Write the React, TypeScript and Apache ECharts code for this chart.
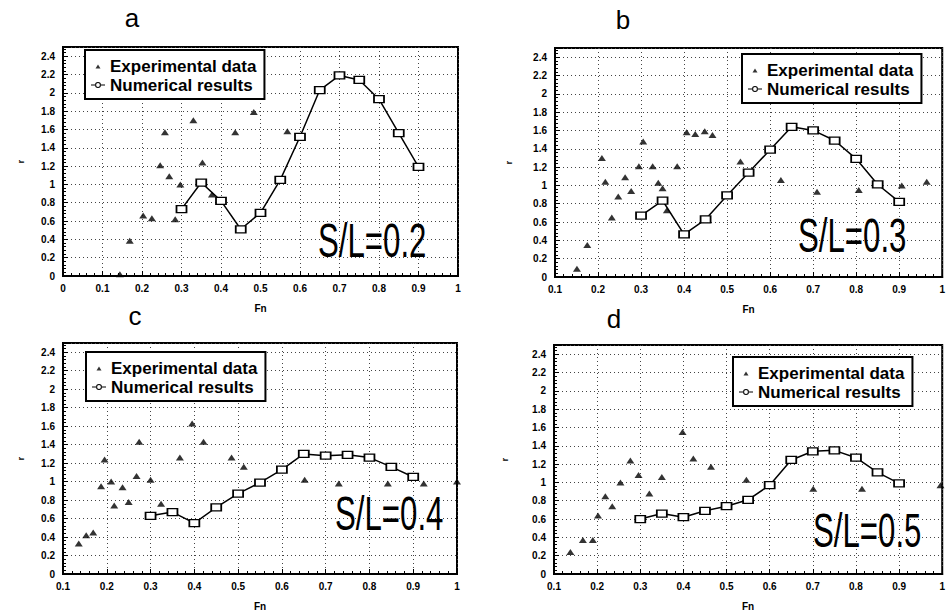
import React, { useEffect, useRef } from "react";
import * as echarts from "echarts";

const panelLetters = ["a", "b", "c", "d"];
const ratioLabels = ["S/L=0.2", "S/L=0.3", "S/L=0.4", "S/L=0.5"];
const legendNames = ["Experimental data", "Numerical results"];
const xAxisTitle = "Fn";
const yAxisTitle = "r";

// Numerical results: Fn values shared by all panels
const numFn = [0.3, 0.35, 0.4, 0.45, 0.5, 0.55, 0.6, 0.65, 0.7, 0.75, 0.8, 0.85, 0.9];
const numA = [0.73, 1.02, 0.82, 0.51, 0.69, 1.05, 1.52, 2.03, 2.19, 2.14, 1.93, 1.56, 1.19];
const numB = [0.67, 0.835, 0.465, 0.63, 0.89, 1.14, 1.39, 1.64, 1.6, 1.49, 1.29, 1.01, 0.82];
const numC = [0.63, 0.67, 0.55, 0.72, 0.87, 0.99, 1.13, 1.3, 1.28, 1.29, 1.26, 1.16, 1.05];
const numD = [0.6, 0.66, 0.62, 0.69, 0.74, 0.81, 0.97, 1.245, 1.34, 1.35, 1.27, 1.11, 0.99];

// Experimental data
const expFnA = [0.144, 0.169, 0.203, 0.225, 0.246, 0.258, 0.269, 0.284, 0.297, 0.33, 0.353, 0.377, 0.436, 0.483, 0.568];
const expA = [0.02, 0.385, 0.66, 0.63, 1.21, 1.57, 1.09, 0.62, 1.0, 1.7, 1.24, 0.89, 1.57, 1.79, 1.58];

const expFnB = [0.151, 0.175, 0.209, 0.217, 0.232, 0.247, 0.263, 0.277, 0.295, 0.305, 0.327, 0.34, 0.35, 0.36, 0.384, 0.406, 0.426, 0.448, 0.466, 0.531, 0.625, 0.709, 0.806, 0.906, 0.964];
const expB = [0.09, 0.35, 1.3, 1.04, 0.65, 0.88, 1.09, 0.94, 1.21, 1.48, 1.21, 1.03, 0.97, 0.73, 1.21, 1.58, 1.56, 1.59, 1.55, 1.26, 1.06, 0.93, 0.95, 1.0, 1.04];

const expFnC = [0.136, 0.153, 0.169, 0.187, 0.195, 0.21, 0.217, 0.236, 0.25, 0.268, 0.274, 0.3, 0.324, 0.367, 0.395, 0.421, 0.485, 0.513, 0.652, 0.73, 0.842, 0.924, 1.0];
const expC = [0.33, 0.42, 0.45, 0.95, 1.24, 1.0, 0.74, 0.94, 0.78, 1.06, 1.43, 1.02, 0.76, 1.26, 1.63, 1.43, 1.26, 1.16, 1.02, 0.98, 0.98, 0.98, 1.0];

const expFnD = [0.138, 0.167, 0.19, 0.202, 0.219, 0.235, 0.254, 0.277, 0.296, 0.321, 0.35, 0.398, 0.423, 0.464, 0.546, 0.701, 0.814, 0.996];
const expD = [0.24, 0.37, 0.37, 0.64, 0.85, 0.74, 1.0, 1.24, 1.08, 0.88, 1.06, 1.55, 1.26, 1.17, 1.03, 0.93, 0.93, 0.97];

const xMins = [0, 0.1, 0.1, 0.1];

const numSeries = [numA, numB, numC, numD];
const expFns = [expFnA, expFnB, expFnC, expFnD];
const expVals = [expA, expB, expC, expD];

// layout (pixels)
const grids = [
  { left: 63, right: 490, top: 47, bottom: 338 },
  { left: 555, right: -5, top: 48, bottom: 337 },
  { left: 63, right: 491, top: 343, bottom: 40 },
  { left: 554, right: -1, top: 345, bottom: 40 },
];
const legendPos = [
  { left: 85, top: 50 },
  { left: 742, top: 54 },
  { left: 86, top: 352 },
  { left: 733, top: 357 },
];
const letterPos = [
  [132, 18],
  [623, 20],
  [135, 316],
  [614, 319],
];
const ratioPos = [
  [318, 240],
  [798, 235],
  [335, 513],
  [813, 530],
];
const yNameGap = [38, 42, 38, 45];

const triIcon = "path://M0,0 L0.01,0 Z M14,8 L14,7.99 Z M4.5,6.5 L7,2.5 L9.5,6.5 Z";
const lineIcon =
  "path://M0,0 L0.01,0 Z M14,8 L14,7.99 Z M0,3.4 L4.2,3.4 L4.2,4.6 L0,4.6 Z M9.8,3.4 L14,3.4 L14,4.6 L9.8,4.6 Z M7,1 A3,3 0 1 0 7,7 A3,3 0 1 0 7,1 Z M7,2.1 A1.9,1.9 0 1 1 7,5.9 A1.9,1.9 0 1 1 7,2.1 Z";

export default function App() {
  const ref = useRef<HTMLDivElement>(null);

  useEffect(() => {
    if (!ref.current) return;
    const chart = echarts.init(ref.current, null, { renderer: "svg" });

    const labelStyle = {
      color: "#000",
      fontSize: 10,
      fontWeight: "bold" as const,
      fontFamily: "Liberation Sans, Arial, sans-serif",
    };
    const splitStyle = { show: true, lineStyle: { color: "#444", type: [1, 3] as any, width: 1 } };

    const xAxis = grids.map((_, i) => ({
      type: "value",
      gridIndex: i,
      min: xMins[i],
      max: 1,
      interval: 0.1,
      name: xAxisTitle,
      nameLocation: "middle",
      nameGap: 27,
      nameTextStyle: { ...labelStyle, fontSize: 10 },
      axisLine: { show: true, onZero: false, lineStyle: { color: "#000", width: 2 } },
      axisTick: { show: true, inside: true, length: 5, lineStyle: { color: "#000" } },
      minorTick: { show: true, splitNumber: 5, length: 3, lineStyle: { color: "#000" } },
      axisLabel: { ...labelStyle, margin: 7 },
      splitLine: splitStyle,
    }));

    const yAxis = grids.map((_, i) => ({
      type: "value",
      gridIndex: i,
      min: 0,
      max: 2.5,
      interval: 0.2,
      name: yAxisTitle,
      nameLocation: "middle",
      nameGap: yNameGap[i],
      nameRotate: 90,
      nameTextStyle: { ...labelStyle, fontSize: 9 },
      axisLine: { show: true, onZero: false, lineStyle: { color: "#000", width: 2 } },
      axisTick: { show: true, inside: true, length: 5, lineStyle: { color: "#000" } },
      minorTick: { show: true, splitNumber: 5, length: 3, lineStyle: { color: "#000" } },
      axisLabel: { ...labelStyle, margin: 8, showMaxLabel: false },
      splitLine: splitStyle,
    }));

    const series: any[] = [];
    grids.forEach((_, i) => {
      series.push({
        type: "scatter",
        name: legendNames[0],
        xAxisIndex: i,
        yAxisIndex: i,
        symbol: "triangle",
        symbolSize: [8, 6],
        itemStyle: { color: "#000" },
        data: expFns[i].map((x, k) => [x, expVals[i][k]]),
        z: 3,
      });
      series.push({
        type: "line",
        name: legendNames[1],
        xAxisIndex: i,
        yAxisIndex: i,
        symbol: "rect",
        symbolSize: [10, 7],
        showAllSymbol: true,
        lineStyle: { color: "#000", width: 1.5 },
        itemStyle: { color: "#fff", borderColor: "#000", borderWidth: 1.5 },
        data: numFn.map((x, k) => [x, numSeries[i][k]]),
        z: 4,
      });
    });

    const legend = legendPos.map((p) => ({
      left: p.left,
      top: p.top,
      orient: "vertical",
      padding: [7, 8, 5, 6],
      itemGap: 1,
      itemWidth: 14,
      itemHeight: 8,
      backgroundColor: "#fff",
      borderColor: "#000",
      borderWidth: 2,
      borderRadius: 0,
      selectedMode: false,
      textStyle: {
        color: "#000",
        fontSize: 17,
        fontWeight: "bold",
        lineHeight: 18,
        fontFamily: "Liberation Sans, Arial, sans-serif",
      },
      data: [
        { name: legendNames[0], icon: triIcon, itemStyle: { color: "#000", borderWidth: 0 } },
        { name: legendNames[1], icon: lineIcon, itemStyle: { color: "#000", borderWidth: 0 } },
      ],
    }));

    const graphic: any[] = [];
    panelLetters.forEach((t, i) => {
      graphic.push({
        type: "text",
        x: letterPos[i][0],
        y: letterPos[i][1],
        style: {
          text: t,
          fill: "#000",
          fontSize: 26,
          fontFamily: "Liberation Sans, Arial, sans-serif",
          align: "center",
          verticalAlign: "middle",
        },
      });
    });
    ratioLabels.forEach((t, i) => {
      graphic.push({
        type: "text",
        x: ratioPos[i][0],
        y: ratioPos[i][1],
        scaleX: 0.65,
        z: 10,
        style: {
          text: t,
          fill: "#000",
          fontSize: 48,
          fontFamily: "Liberation Sans, Arial, sans-serif",
          align: "left",
          verticalAlign: "middle",
        },
      });
    });

    chart.setOption({
      animation: false,
      backgroundColor: "#fff",
      grid: grids.map((g) => ({
        ...g,
        show: true,
        borderColor: "#000",
        borderWidth: 2,
        backgroundColor: "transparent",
        containLabel: false,
      })),
      xAxis,
      yAxis,
      legend,
      series,
      graphic,
    });

    return () => chart.dispose();
  }, []);

  return (
    <div
      ref={ref}
      style={{ position: "fixed", left: 0, top: 0, width: 948, height: 614, background: "#fff" }}
    />
  );
}
